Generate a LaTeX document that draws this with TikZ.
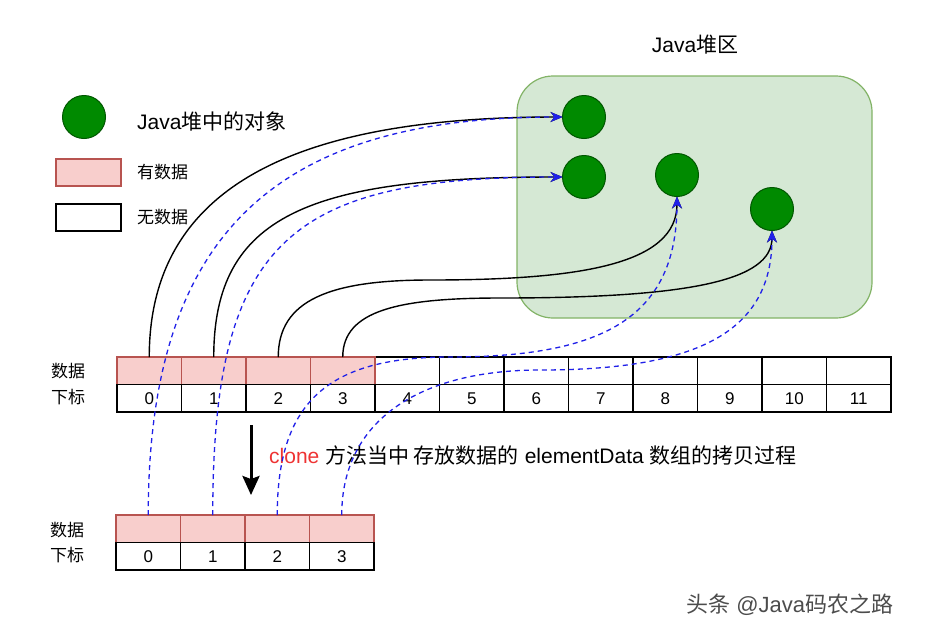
\documentclass[tikz,border=0pt]{standalone}
\usepackage{fontspec}
\setmainfont{Liberation Sans}
\newfontfamily\cjk{Noto Sans CJK SC}
\usetikzlibrary{arrows.meta,positioning,calc}
\definecolor{objfill}{HTML}{008A00}
\definecolor{objline}{HTML}{005700}
\definecolor{heapfill}{HTML}{D5E8D4}
\definecolor{heapline}{HTML}{82B366}
\definecolor{pinkfill}{HTML}{F8CECC}
\definecolor{pinkline}{HTML}{B85450}
\definecolor{copyblue}{HTML}{2020E8}
\definecolor{clonered}{HTML}{EE3333}
\tikzset{
    cell/.style={draw,line width=1.3pt,minimum width=64.5pt,minimum height=27.5pt,inner sep=0pt,outer sep=0pt,font=\fontsize{17}{20}\selectfont},
    data cell/.style={cell,draw=pinkline,fill=pinkfill},
    obj/.style={circle,draw=objline,fill=objfill,line width=1pt,minimum size=43pt,inner sep=0pt,outer sep=0pt},
    ref line/.style={line width=1.4pt,-{Stealth[length=12pt,width=10pt]}},
    copy line/.style={copyblue,line width=1.3pt,dash pattern=on 5pt off 4pt,-{Stealth[length=12pt,width=10pt]}},
    big text/.style={font=\fontsize{21}{25}\selectfont,inner sep=0pt},
    small text/.style={font=\fontsize{17}{20}\selectfont,inner sep=0pt}
}

\begin{document}
\begin{tikzpicture}[x=1pt,y=-1pt]
    \useasboundingbox (0,0) rectangle (933,633);

    \node[big text] (heapname) at (695,45) {Java{\cjk 堆区}};
    \node[draw=heapline,fill=heapfill,line width=1.2pt,rounded corners=36pt,minimum width=355pt,minimum height=242pt] (heap) at (694.5,197) {};

    \node[obj] (legobj) at (84,117) {};
    \node[big text,anchor=west] (legobjtext) at (137,121) {Java{\cjk 堆中的对象}};
    \node[data cell,minimum width=65pt,minimum height=27pt] (legdata) at (88.5,172.5) {};
    \node[small text,right=16pt of legdata] (legdatatext) {\cjk 有数据};
    \node[cell,minimum width=65pt,minimum height=27pt] (legempty) at (88.5,217.5) {};
    \node[small text,right=16pt of legempty] (legemptytext) {\cjk 无数据};

    \node[obj] (o1) at (584,117) {};
    \node[obj] (o2) at (584,177) {};
    \node[obj] (o3) at (677,175) {};
    \node[obj] (o4) at (772,209) {};

    \node[small text] (toplbl) at (68,371.5) {\cjk 数据};
    \node[small text] (topidx) at (68,397.5) {\cjk 下标};
    \foreach \i in {4,...,11} {
        \node[cell] (d\i) at (149.25+64.5*\i,370.75) {};
    }
    \foreach \i in {0,...,3} {
        \node[data cell] (d\i) at (149.25+64.5*\i,370.75) {};
    }
    \foreach \i in {0,...,11} {
        \node[cell] (i\i) at (149.25+64.5*\i,398.25) {\i};
    }

    \node[small text] (botlbl) at (67,530) {\cjk 数据};
    \node[small text] (botidx) at (67,555) {\cjk 下标};
    \foreach \i in {0,...,3} {
        \node[data cell] (c\i) at (148.25+64.5*\i,528.75) {};
        \node[cell] (ci\i) at (148.25+64.5*\i,556.25) {\i};
    }

    \coordinate (cpA) at (251,425);
    \coordinate (cpB) at (251,495);
    \draw[line width=3pt,-{Stealth[length=19pt,width=17pt,inset=3pt]}] (cpA) -- (cpB);
    \node[big text,anchor=west] (clonetext) at (269,455.5) {\textcolor{clonered}{clone} {\cjk 方法当中 存放数据的} elementData {\cjk 数组的拷贝过程}};

    \coordinate (m2) at (430,280);
    \coordinate (m3) at (500,298);
    \coordinate (n2) at (450,357);
    \coordinate (n3) at (540,370);

    \draw[ref line] (d0.north) .. controls +(0,-167) and +(-273,0) .. (o1.west);
    \draw[ref line] (d1.north) .. controls +(0,-142) and +(-253,0) .. (o2.west);
    \draw[ref line] (d2.north) .. controls +(0,-57) and +(-100,0) .. (m2) .. controls +(150,0) and +(0,68) .. (o3.south);
    \draw[ref line] (d3.north) .. controls +(0,-47) and +(-100,0) .. (m3) .. controls +(190,0) and +(0,50) .. (o4.south);

    \draw[copy line] (c0.north) .. controls +(0,-285) and +(-283,0) .. (o1.west);
    \draw[copy line] (c1.north) .. controls +(0,-275) and +(-273,0) .. (o2.west);
    \draw[copy line] (c2.north) .. controls +(0,-115) and +(-120,0) .. (n2) .. controls +(150,0) and +(0,123) .. (o3.south);
    \draw[copy line] (c3.north) .. controls +(0,-95) and +(-120,0) .. (n3) .. controls +(160,0) and +(0,100) .. (o4.south);

    \node[font=\fontsize{22}{26}\selectfont,text=black!70,anchor=west,inner sep=0pt] (mark) at (686,605) {{\cjk 头条} @Java{\cjk 码农之路}};
\end{tikzpicture}
\end{document}
